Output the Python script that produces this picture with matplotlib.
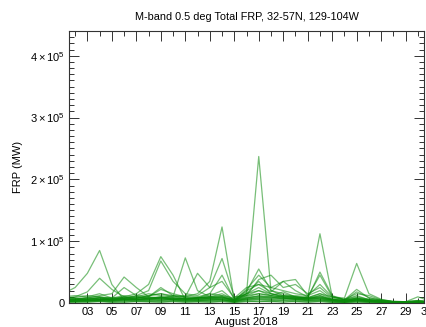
import matplotlib
matplotlib.use("Agg")
import matplotlib.pyplot as plt
import numpy as np
from matplotlib.ticker import FixedLocator, MultipleLocator

plt.rcParams['font.family'] = ['Liberation Sans', 'DejaVu Sans']
plt.rcParams['mathtext.fontset'] = 'custom'
plt.rcParams['mathtext.rm'] = 'Liberation Sans'
plt.rcParams['mathtext.it'] = 'Liberation Sans'

title = "M-band 0.5 deg Total FRP, 32-57N, 129-104W"
xlabel = "August 2018"
ylabel = "FRP (MW)"

days = list(range(1, 32))
# FRP values per series, in units of 1e4 MW, days 1..31
series = [
    [1.5, 2.5, 4.8, 8.5, 3.0, 0.5, 0.3, 0.5, 0.8, 0.5, 0.3, 0.4, 0.5, 0.6, 0.2, 0.8, 1.2, 1.0, 0.8, 0.6, 0.5, 0.8, 0.4, 0.3, 0.5, 0.3, 0.2, 0.1, 0.1, 0.2, 0.1],
    [0.8, 1.0, 1.8, 4.0, 2.2, 1.0, 0.5, 0.7, 1.0, 0.6, 0.4, 0.6, 0.8, 1.0, 0.3, 1.5, 2.0, 1.2, 0.9, 0.7, 0.6, 1.2, 0.5, 0.4, 1.8, 0.9, 0.4, 0.2, 0.1, 0.3, 0.2],
    [0.5, 0.6, 0.8, 1.2, 1.5, 4.2, 2.5, 1.0, 2.5, 1.2, 0.6, 0.8, 1.5, 4.5, 0.6, 1.8, 5.5, 2.0, 1.5, 1.0, 0.8, 5.0, 1.2, 0.5, 2.2, 0.8, 0.5, 0.2, 0.2, 0.3, 0.2],
    [0.4, 0.5, 0.6, 0.8, 0.5, 1.0, 1.5, 3.0, 7.5, 4.5, 0.5, 0.8, 1.2, 2.0, 0.4, 2.2, 4.5, 2.5, 3.5, 2.0, 1.0, 4.5, 1.0, 0.6, 1.0, 0.6, 0.3, 0.2, 0.1, 0.2, 0.1],
    [0.6, 0.7, 0.9, 1.0, 0.8, 2.5, 1.2, 2.0, 6.8, 3.5, 1.5, 1.2, 2.5, 7.2, 1.0, 1.2, 3.8, 4.5, 2.5, 3.0, 1.5, 2.5, 0.8, 0.5, 1.2, 0.5, 0.4, 0.2, 0.2, 0.4, 0.2],
    [0.3, 0.4, 0.5, 0.6, 0.7, 1.0, 0.8, 1.2, 1.5, 1.0, 7.3, 2.0, 1.0, 1.5, 0.5, 2.0, 3.0, 1.8, 3.5, 3.8, 1.2, 2.0, 0.6, 0.4, 0.8, 0.4, 0.3, 0.1, 0.1, 0.2, 0.1],
    [0.2, 0.3, 0.4, 0.5, 0.6, 0.8, 0.7, 1.0, 2.2, 1.5, 1.0, 4.8, 2.5, 3.5, 0.8, 1.5, 2.5, 1.5, 1.0, 0.8, 0.7, 1.0, 0.5, 0.3, 0.6, 0.4, 0.2, 0.1, 0.1, 0.1, 0.1],
    [0.4, 0.5, 0.6, 0.8, 0.7, 0.9, 0.8, 1.2, 1.5, 1.2, 1.0, 1.5, 3.5, 12.3, 0.5, 1.5, 3.5, 1.5, 1.2, 1.0, 0.8, 1.5, 0.6, 0.4, 0.7, 0.4, 0.3, 0.1, 0.1, 0.2, 0.1],
    [0.3, 0.3, 0.4, 0.5, 0.5, 0.7, 0.6, 0.8, 1.0, 0.8, 0.7, 0.9, 1.0, 1.2, 0.5, 1.5, 23.7, 2.0, 1.2, 1.0, 0.8, 1.2, 0.5, 0.3, 0.5, 0.3, 0.2, 0.1, 0.1, 0.1, 0.1],
    [0.2, 0.3, 0.3, 0.4, 0.4, 0.5, 0.5, 0.6, 0.8, 0.7, 0.6, 0.8, 0.9, 1.0, 0.4, 1.2, 2.0, 1.5, 1.0, 1.2, 1.0, 11.2, 1.0, 0.5, 0.8, 0.4, 0.3, 0.2, 0.1, 0.1, 0.1],
    [0.3, 0.3, 0.4, 0.5, 0.4, 0.6, 0.6, 0.8, 0.9, 0.7, 0.6, 0.8, 0.9, 1.0, 0.5, 1.0, 1.5, 1.2, 1.0, 0.8, 0.9, 1.5, 1.0, 0.8, 6.4, 1.5, 0.6, 0.2, 0.2, 0.3, 0.2],
    [1.0, 1.2, 1.0, 1.5, 0.8, 1.2, 1.0, 1.5, 1.2, 1.0, 1.2, 1.0, 1.5, 1.2, 0.8, 2.5, 3.0, 2.5, 2.0, 1.5, 1.2, 3.0, 1.0, 0.6, 1.5, 1.2, 0.5, 0.3, 0.2, 1.0, 0.3],
    [0.8, 0.9, 1.2, 1.0, 0.6, 0.8, 1.2, 1.0, 0.8, 1.2, 1.0, 0.8, 1.0, 0.9, 0.6, 1.2, 1.5, 1.2, 1.8, 1.0, 0.8, 1.0, 0.6, 0.4, 0.8, 0.6, 0.4, 0.2, 0.2, 0.4, 0.2],
    [0.5, 0.6, 0.8, 0.6, 0.5, 0.7, 0.9, 0.8, 0.6, 0.9, 0.8, 0.6, 0.7, 0.8, 0.4, 0.9, 1.0, 0.8, 1.2, 0.8, 0.6, 0.8, 0.5, 0.3, 0.6, 0.4, 0.3, 0.1, 0.1, 0.2, 0.1],
    [0.3, 0.4, 0.5, 0.4, 0.3, 0.5, 0.6, 0.5, 0.4, 0.6, 0.5, 0.4, 0.5, 0.6, 0.3, 0.6, 0.7, 0.6, 0.8, 0.6, 0.4, 0.5, 0.3, 0.2, 0.4, 0.3, 0.2, 0.1, 0.1, 0.1, 0.1],
    [0.2, 0.2, 0.3, 0.3, 0.2, 0.3, 0.4, 0.3, 0.3, 0.4, 0.3, 0.3, 0.3, 0.4, 0.2, 0.4, 0.5, 0.4, 0.5, 0.4, 0.3, 0.4, 0.2, 0.1, 0.3, 0.2, 0.1, 0.1, 0.0, 0.1, 0.0],
    [0.1, 0.1, 0.2, 0.2, 0.1, 0.2, 0.2, 0.2, 0.2, 0.2, 0.2, 0.2, 0.2, 0.2, 0.1, 0.2, 0.3, 0.2, 0.3, 0.2, 0.2, 0.2, 0.1, 0.1, 0.2, 0.1, 0.1, 0.0, 0.0, 0.1, 0.0],
    [0.6, 0.5, 0.7, 0.9, 0.4, 0.6, 0.5, 0.7, 0.5, 0.6, 0.7, 0.5, 0.6, 0.5, 0.3, 0.7, 0.8, 0.7, 0.6, 0.7, 0.5, 0.6, 0.4, 0.2, 0.5, 0.3, 0.2, 0.1, 0.1, 0.2, 0.1],
    [0.9, 0.7, 0.6, 0.8, 0.9, 0.7, 1.1, 0.6, 0.9, 0.8, 0.6, 0.9, 0.7, 0.8, 0.5, 0.8, 1.1, 0.9, 0.7, 0.9, 0.7, 0.9, 0.5, 0.3, 0.6, 0.5, 0.3, 0.2, 0.1, 0.2, 0.1],
    [0.4, 0.5, 0.3, 0.6, 0.5, 0.4, 0.6, 0.4, 0.5, 0.5, 0.4, 0.5, 0.4, 0.5, 0.2, 0.5, 0.6, 0.5, 0.4, 0.5, 0.4, 0.5, 0.3, 0.1, 0.3, 0.2, 0.1, 0.1, 0.0, 0.1, 0.0],
    [0.7, 0.8, 0.5, 0.5, 0.7, 0.5, 0.8, 0.9, 0.7, 0.5, 0.9, 0.7, 0.8, 0.7, 0.4, 0.6, 0.9, 1.0, 0.8, 0.6, 0.8, 0.7, 0.4, 0.2, 0.4, 0.3, 0.2, 0.1, 0.1, 0.1, 0.1],
    [0.1, 0.2, 0.1, 0.3, 0.2, 0.1, 0.3, 0.2, 0.1, 0.3, 0.1, 0.2, 0.1, 0.3, 0.1, 0.3, 0.2, 0.3, 0.1, 0.3, 0.1, 0.3, 0.1, 0.0, 0.1, 0.1, 0.0, 0.0, 0.0, 0.0, 0.0],
]
xticks = list(range(3, 32, 2))
xticklabels = ["%02d" % d for d in xticks]
yticks = [0, 1e5, 2e5, 3e5, 4e5]
yticklabels = ["0", r"$1\times10^5$", r"$2\times10^5$", r"$3\times10^5$", r"$4\times10^5$"]

fig = plt.figure(figsize=(4.26, 3.27), dpi=100)
ax = fig.add_axes([69/426, 1 - 303/327, (424 - 69)/426, (303 - 31)/327])

for s in series:
    ax.plot(days, np.array(s) * 1e4, color='#0a8a0a', alpha=0.55, lw=0.9)

ax.set_xlim(1.5, 30.5)
ax.set_ylim(0, 4.4e5)
ax.xaxis.set_major_locator(FixedLocator(xticks))
ax.set_xticklabels(xticklabels)
ax.xaxis.set_minor_locator(MultipleLocator(1))
ax.set_yticks(yticks)
ax.set_yticklabels(yticklabels)
ax.yaxis.set_minor_locator(MultipleLocator(1e4))

ax.tick_params(which='both', direction='in', top=True, right=True, labelsize=8, width=0.7, color='#333333')
ax.tick_params(which='major', length=7, pad=3)
ax.tick_params(which='minor', length=3.5)
for sp in ax.spines.values():
    sp.set_linewidth(0.8)
    sp.set_color('#333333')

ax.text(30.72, -0.015, "31", transform=ax.get_xaxis_transform(), ha='center', va='top', fontsize=8, clip_on=False)
ax.set_xlabel(xlabel, fontsize=8, labelpad=0)
ax.set_ylabel(ylabel, fontsize=8, labelpad=5)
ax.set_title(title, fontsize=7.8, pad=8)

fig.savefig("out.png", dpi=100)
